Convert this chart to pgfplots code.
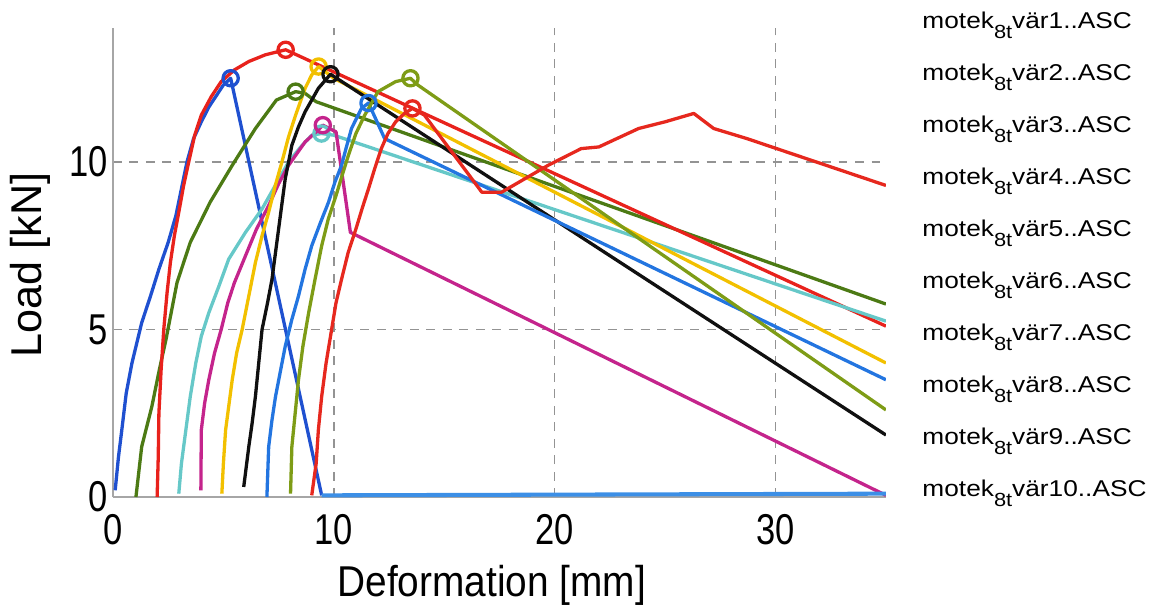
\documentclass[border=0pt]{standalone}
\usepackage{fontspec}
\setmainfont{Liberation Sans}
\usepackage{graphicx}
\usepackage{pgfplots}
\pgfplotsset{compat=1.18}

\definecolor{cA}{HTML}{1F50D0}
\definecolor{cAt}{HTML}{3C8FE6}
\definecolor{cB}{HTML}{4C7A14}
\definecolor{cC}{HTML}{E8221C}
\definecolor{cD}{HTML}{66C8C8}
\definecolor{cE}{HTML}{C4248C}
\definecolor{cF}{HTML}{F2C000}
\definecolor{cG}{HTML}{101010}
\definecolor{cH}{HTML}{2375E0}
\definecolor{cI}{HTML}{7E9C16}
\definecolor{cJ}{HTML}{E6281E}

\newcommand{\leg}[1]{\scalebox{1.15}[1]{motek\raisebox{-0.42em}{\fontsize{7.5}{7.5}\selectfont 8t}vär#1..ASC}}

\begin{document}
\begin{tikzpicture}
\path[use as bounding box] (-1.565cm,-1.551cm) rectangle (14.435cm,6.885cm);
\begin{axis}[
    scale only axis, width=10.708cm, height=6.497cm,
    xmin=0, xmax=35, ymin=0, ymax=14,
    xtick={0,10,20,30}, ytick={0,5,10},
    axis lines*=left,
    axis line style={gray!70, line width=0.5pt},
    major tick length=0pt,
    grid=major,
    grid style={gray!85, line width=0.55pt, dash pattern=on 3.5pt off 3pt},
    /pgf/number format/assume math mode=true,
    tick label style={font=\fontsize{17}{17}\selectfont},
    xticklabel={\scalebox{0.8}[1]{\pgfmathprintnumber{\tick}}},
    yticklabel={\scalebox{0.8}[1]{\pgfmathprintnumber{\tick}}},
    xticklabel style={yshift=-3.5pt},
    yticklabel style={xshift=1.5pt},
    xlabel={\scalebox{0.9}[1]{Deformation [mm]}},
    ylabel={Load [kN]},
    label style={font=\fontsize{17}{17}\selectfont},
    xlabel style={at={(axis description cs:0.49,-0.127)}, anchor=north},
    ylabel style={at={(axis description cs:-0.107,0.495)}, anchor=center},
    legend style={at={(axis description cs:1.0466,1)}, anchor=north west, yshift=8pt,
        draw=none, fill=none, inner sep=0pt, row sep=9.5pt, column sep=0pt,
        nodes={inner sep=0pt, text height=8pt, text depth=3pt},
        font=\fontsize{9}{9}\selectfont},
    legend image code/.code={},
    legend cell align=left,
    every axis plot/.append style={line width=1.3pt, line join=round},
]
% vär1
\addplot[cA] coordinates {(0.1,0.2) (0.25,1.2) (0.4,2.0) (0.6,3.1) (0.86,4.0) (1.3,5.2) (1.7,6.0) (2.08,6.8) (2.5,7.6) (2.85,8.4) (3.1,9.2) (3.35,10.0) (3.65,10.7) (4.0,11.2) (4.35,11.65) (4.7,12.0) (5.0,12.3) (5.33,12.5) (9.45,0.05)};
\addlegendentry{\leg{1}}
% vär2
\addplot[cB] coordinates {(1.04,0) (1.3,1.5) (1.76,2.7) (2.1,3.8) (2.4,4.7) (2.9,6.4) (3.5,7.6) (4.4,8.8) (5.4,9.9) (6.45,11.0) (7.4,11.85) (8.27,12.1) (8.7,12.05) (9.2,11.8) (35,5.76)};
\addlegendentry{\leg{2}}
% vär3
\addplot[cC] coordinates {(2.0,0) (2.05,1.2) (2.08,2.5) (2.18,3.8) (2.3,5.0) (2.45,6.1) (2.6,7.0) (2.78,7.8) (2.98,8.5) (3.2,9.3) (3.43,10.0) (3.7,10.8) (4.0,11.4) (4.45,11.95) (4.9,12.4) (5.5,12.75) (6.15,13.0) (6.9,13.2) (7.82,13.35) (35,5.1)};
\addlegendentry{\leg{3}}
% vär4
\addplot[cD] coordinates {(2.98,0.1) (3.1,1.0) (3.3,2.0) (3.5,3.0) (3.75,4.0) (4.0,4.8) (4.34,5.5) (4.8,6.3) (5.24,7.1) (6.0,7.9) (6.75,8.6) (7.35,9.3) (7.95,10.0) (8.5,10.45) (9.0,10.8) (9.44,10.85) (10.0,10.8) (35,5.25)};
\addlegendentry{\leg{4}}
% vär5
\addplot[cE] coordinates {(3.98,0.2) (4.0,2.0) (4.15,2.8) (4.34,3.5) (4.6,4.3) (4.9,5.0) (5.2,5.8) (5.5,6.4) (6.0,7.2) (6.5,8.0) (7.05,8.7) (7.5,9.35) (7.95,9.9) (8.7,10.6) (9.2,10.9) (9.5,11.1) (10.1,10.9) (10.75,7.9) (35,0.05)};
\addlegendentry{\leg{5}}
% vär6
\addplot[cF] coordinates {(4.93,0.1) (5.0,1.0) (5.1,2.0) (5.4,3.5) (5.6,4.3) (5.85,5.0) (6.15,6.0) (6.45,7.0) (6.75,7.8) (7.05,8.5) (7.35,9.3) (7.65,10.0) (7.95,10.75) (8.27,11.4) (8.7,12.2) (9.0,12.6) (9.31,12.85) (10.0,12.5) (35,4.0)};
\addlegendentry{\leg{6}}
% vär7
\addplot[cG] coordinates {(5.92,0.3) (6.15,1.5) (6.3,2.2) (6.45,3.0) (6.6,4.0) (6.75,5.0) (7.0,5.8) (7.2,6.5) (7.5,8.0) (7.8,9.5) (8.1,10.5) (8.4,11.05) (8.7,11.5) (9.3,12.2) (9.85,12.62) (35,1.85)};
\addlegendentry{\leg{7}}
% vär8
\addplot[cH] coordinates {(6.97,0) (7.05,1.5) (7.2,2.3) (7.36,3.0) (7.8,4.5) (8.1,5.3) (8.4,6.0) (8.7,6.8) (9.0,7.5) (9.4,8.2) (9.76,8.8) (10.05,9.4) (10.35,9.9) (10.55,10.4) (10.8,11.0) (11.25,11.6) (11.57,11.76) (12.3,10.7) (35,3.5)};
\addlegendentry{\leg{8}}
% vär9
\addplot[cI] coordinates {(8.04,0.1) (8.1,1.5) (8.25,2.5) (8.4,3.5) (8.6,4.5) (8.86,5.5) (9.15,6.5) (9.45,7.5) (9.75,8.3) (10.1,9.0) (10.4,9.65) (10.66,10.2) (11.0,10.85) (11.4,11.4) (12.0,12.1) (12.8,12.4) (13.47,12.5) (13.8,12.3) (35,2.6)};
\addlegendentry{\leg{9}}
% vär10
\addplot[cJ] coordinates {(9.0,0.05) (9.2,1.0) (9.3,2.0) (9.45,3.0) (9.65,4.0) (9.9,5.0) (10.1,5.8) (10.35,6.5) (10.65,7.3) (11.0,8.0) (11.3,8.65) (11.57,9.2) (11.85,9.8) (12.15,10.4) (12.45,10.85) (12.8,11.2) (13.2,11.45) (13.56,11.6) (14.1,11.4) (16.7,9.1) (17.6,9.1) (19.7,9.9) (21.2,10.4) (22.0,10.45) (23.8,11.0) (25.0,11.2) (26.3,11.45) (27.2,11.0) (28.7,10.7) (35,9.3)};
\addlegendentry{\leg{10}}
% tail of vär1 along the axis
\addplot[cAt, line width=1.6pt, forget plot] coordinates {(9.45,0.05) (35,0.1)};
% peak markers
\addplot[cA, only marks, mark=o, mark size=3pt, forget plot] coordinates {(5.33,12.5)};
\addplot[cB, only marks, mark=o, mark size=3pt, forget plot] coordinates {(8.27,12.1)};
\addplot[cC, only marks, mark=o, mark size=3pt, forget plot] coordinates {(7.82,13.35)};
\addplot[cD, only marks, mark=o, mark size=3pt, forget plot] coordinates {(9.44,10.85)};
\addplot[cE, only marks, mark=o, mark size=3pt, forget plot] coordinates {(9.5,11.1)};
\addplot[cF, only marks, mark=o, mark size=3pt, forget plot] coordinates {(9.31,12.85)};
\addplot[cG, only marks, mark=o, mark size=3pt, forget plot] coordinates {(9.85,12.62)};
\addplot[cH, only marks, mark=o, mark size=3pt, forget plot] coordinates {(11.57,11.76)};
\addplot[cI, only marks, mark=o, mark size=3pt, forget plot] coordinates {(13.47,12.5)};
\addplot[cJ, only marks, mark=o, mark size=3pt, forget plot] coordinates {(13.56,11.6)};
\end{axis}
\end{tikzpicture}
\end{document}
